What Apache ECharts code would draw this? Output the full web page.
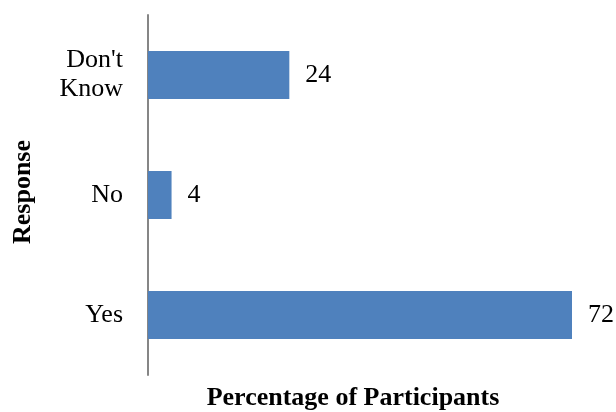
<!DOCTYPE html>
<html>
<head>
<meta charset="utf-8">
<script src="https://cdn.jsdelivr.net/npm/echarts@6/dist/echarts.min.js"></script>
<style>
  html, body { margin: 0; padding: 0; background: #fff; }
  #chart { width: 616px; height: 412px; }
</style>
</head>
<body>
<div id="chart"></div>
<script>
// Survey responses, listed bottom to top
const categories = ['Yes', 'No', "Don't\nKnow"];
const percentages = [72, 4, 24];
const xAxisTitle = 'Percentage of Participants';
const yAxisTitle = 'Response';

const serif = '"Liberation Serif", "Times New Roman", serif';
const chart = echarts.init(document.getElementById('chart'));

chart.setOption({
  animation: false,
  backgroundColor: '#ffffff',
  grid: { left: 148, right: 44, top: 15, bottom: 37, containLabel: false },
  xAxis: {
    type: 'value',
    min: 0,
    max: 72,
    show: false
  },
  yAxis: {
    type: 'category',
    data: categories,
    axisLine: { show: true, lineStyle: { color: '#868686', width: 2 } },
    axisTick: { show: false },
    axisLabel: {
      margin: 25,
      color: '#000',
      fontFamily: serif,
      fontSize: 26,
      lineHeight: 29,
      align: 'right'
    },
    splitLine: { show: false }
  },
  series: [{
    type: 'bar',
    data: percentages,
    barWidth: '40%',
    itemStyle: { color: '#4F81BD' },
    label: {
      show: true,
      position: 'right',
      distance: 16,
      color: '#000',
      fontFamily: serif,
      fontSize: 26
    }
  }],
  graphic: [
    {
      type: 'text',
      style: {
        text: xAxisTitle,
        x: 353,
        y: 398,
        align: 'center',
        verticalAlign: 'middle',
        fill: '#000',
        font: 'bold 26px ' + serif
      }
    },
    {
      type: 'text',
      x: 23,
      y: 192,
      rotation: Math.PI / 2,
      style: {
        text: yAxisTitle,
        x: 0,
        y: 0,
        align: 'center',
        verticalAlign: 'middle',
        fill: '#000',
        font: 'bold 26px ' + serif
      }
    }
  ]
});
</script>
</body>
</html>
